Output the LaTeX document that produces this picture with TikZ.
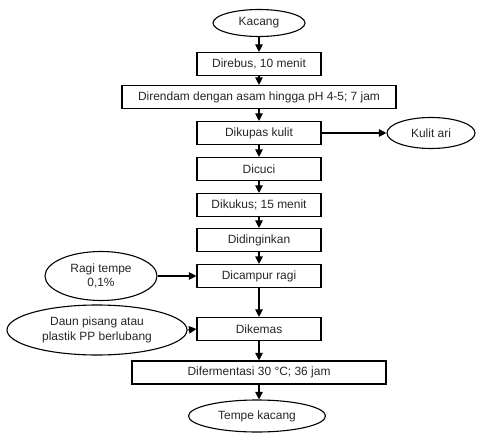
\documentclass[tikz,border=0pt]{standalone}
\usepackage{fontspec}
\setmainfont{Liberation Sans}
\usetikzlibrary{arrows.meta,shapes.geometric}
\begin{document}
\begin{tikzpicture}[x=1bp,y=-1bp,
  every node/.style={font=\fontsize{12}{14.5}\selectfont, inner sep=0pt, text=black!85},
  box/.style={draw, line width=1.1bp, minimum height=23bp},
  oval/.style={draw, ellipse, line width=1.1bp, align=center},
  arr/.style={line width=1.1bp, -{Triangle[length=7.5bp,width=7.5bp]}}]
\useasboundingbox (0,0) rectangle (479,436);
\node[oval, minimum width=92bp, minimum height=27bp] (kacang) at (259,23) {Kacang};
\node[box, minimum width=124bp] (rebus) at (259,64) {Direbus, 10 menit};
\node[box, minimum width=274bp] (rendam) at (259,97) {Direndam dengan asam hingga pH 4-5; 7 jam};
\node[box, minimum width=124bp] (kupas) at (259,133) {Dikupas kulit};
\node[oval, minimum width=88bp, minimum height=31bp] (kulit) at (431,133) {Kulit ari};
\node[box, minimum width=124bp] (cuci) at (259,169) {Dicuci};
\node[box, minimum width=124bp] (kukus) at (259,205) {Dikukus; 15 menit};
\node[box, minimum width=124bp] (dingin) at (259,240) {Didinginkan};
\node[box, minimum width=124bp] (campur) at (259,276) {Dicampur ragi};
\node[oval, minimum width=112bp, minimum height=49bp] (ragi) at (101,276) {Ragi tempe\\0,1\%};
\node[box, minimum width=124bp] (kemas) at (259,329) {Dikemas};
\node[oval, minimum width=180bp, minimum height=50bp] (daun) at (97,330) {Daun pisang atau\\plastik PP berlubang};
\node[box, minimum width=254bp] (ferm) at (259,372.5) {Difermentasi 30 °C; 36 jam};
\node[oval, minimum width=137bp, minimum height=32bp] (tempe) at (257,416) {Tempe kacang};
\draw[arr] (kacang.south) -- (rebus.north);
\draw[arr] (rebus) -- (rendam);
\draw[arr] (rendam) -- (kupas);
\draw[arr] (kupas) -- (kulit);
\draw[arr] (kupas) -- (cuci);
\draw[arr] (cuci) -- (kukus);
\draw[arr] (kukus) -- (dingin);
\draw[arr] (dingin) -- (campur);
\draw[arr] (ragi) -- (campur);
\draw[arr] (campur) -- (kemas);
\draw[arr] (daun.east) -- (kemas.west);
\draw[arr] (kemas) -- (ferm);
\draw[arr] (ferm.south) -- (tempe.north -| ferm.south);
\end{tikzpicture}
\end{document}
